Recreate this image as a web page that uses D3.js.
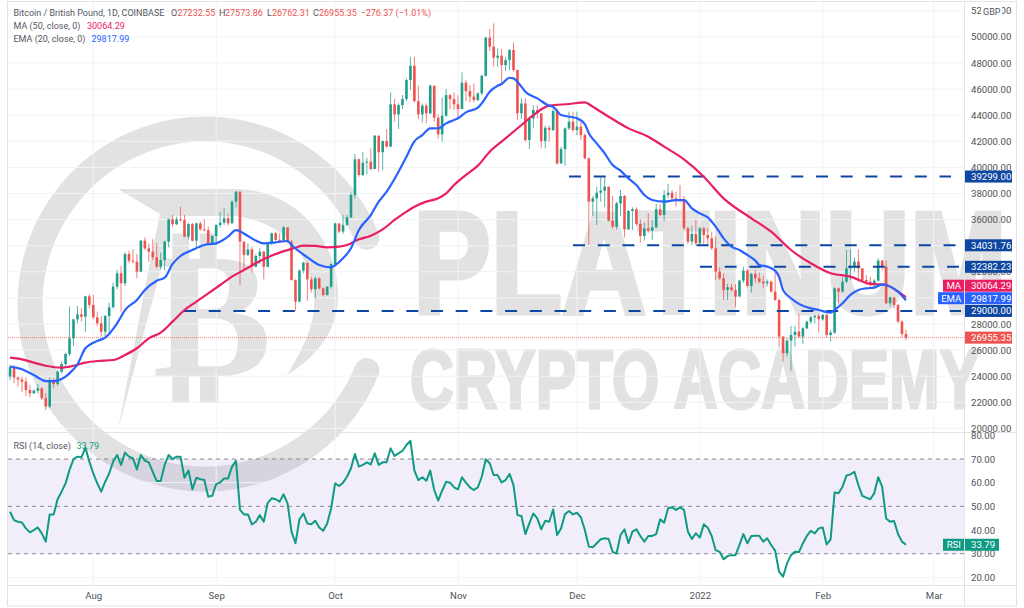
<!DOCTYPE html>
<html>
<head>
<meta charset="utf-8">
<script src="https://cdn.jsdelivr.net/npm/d3@7"></script>
<style>
  html, body { margin: 0; padding: 0; background: #fff; }
  svg { display: block; }
  text { font-family: Roboto, "Open Sans", sans-serif; }
</style>
</head>
<body>
<div id="chart"></div>
<script>
// bars are daily, first bar is 11 Jul 2021
var firstDay = Date.UTC(2021, 6, 11);
var firstOpen = 23970;

var closes = [
  24680,23900,23750,23580,22940,22690,22890,23070,22305,21670,
  23710,23400,24350,24935,25700,26900,28360,28740,28560,30120,
  29460,28510,28050,27410,28610,29280,30860,31880,31120,33360,
  32850,32780,32010,34385,33800,33540,33110,32390,32900,34310,
  36020,35640,36020,35970,34690,35660,34385,35710,35250,35200,
  34130,34740,35585,35760,36100,35710,37375,38140,34310,33290,
  33720,32390,33210,33540,32390,34180,34950,34440,34390,35410,
  34310,31370,29710,32090,32700,31420,30660,31500,30730,30220,
  30860,32600,35710,35080,35590,36175,37885,40618,39420,40360,
  40440,39880,42430,41160,42020,41590,44830,44065,44780,45240,
  46690,47790,45080,44065,44730,44140,46260,43810,42530,43960,
  45540,45240,44830,44470,46490,45850,45420,45160,45670,47020,
  49935,49250,48405,48560,47840,48226,48993,47460,44140,44900,
  42100,43760,44395,44140,42020,43040,42865,44320,40310,41400,
  42990,43500,42865,43120,42480,40695,37375,37630,38064,38217,
  38524,35920,35460,37247,37810,35256,36660,36790,35665,34745,
  35330,35154,35409,36788,36354,37886,38064,37630,37503,37452,
  35333,34311,34899,34184,35333,34822,34567,33801,32014,31503,
  30610,30814,30610,30099,31324,32090,30916,31835,31503,31247,
  31119,31247,30481,29843,27034,25758,26728,27162,27417,27034,
  27672,28183,28515,28617,28362,28694,27162,27340,30736,30481,
  31247,32268,32447,32779,32268,31374,31247,30992,31323,32855,
  32396,29587,30047,29460,28183,27232,26955
];
var highs = [
  24860,24860,23960,23960,23915,23330,23000,23400,23150,22690,
  23915,23840,24475,25115,25800,29330,28380,29380,29200,30120,
  30300,30220,28950,28610,28690,29640,31170,32140,32445,33470,
  33620,33750,33360,34430,34640,34180,34490,34180,33470,34390,
  36070,36380,36220,36990,36350,35760,35760,35760,35840,36020,
  35460,34820,35640,36610,36860,36480,37450,38190,38140,34310,
  34180,33920,33360,33800,33620,34230,35000,35075,34950,35510,
  35200,34440,31420,32190,32780,32700,31630,31630,31580,30810,
  30900,32650,35750,35640,36350,36350,38060,41030,40690,41200,
  40745,41460,42480,42430,42050,42940,45750,45240,44910,45540,
  46820,48480,48480,46260,44910,44910,46360,46060,44065,45340,
  46000,45600,45750,45540,47280,46690,46310,46440,45750,47100,
  50010,50600,51035,49120,49070,48480,49070,49580,47510,45290,
  45290,43885,44780,44780,43885,43200,43200,44525,44525,41590,
  43070,44270,44270,44270,43500,42610,40745,37810,38524,39239,
  39239,38524,37810,37375,38270,37885,36737,36940,36940,36022,
  35767,36480,35970,37196,37196,38270,38728,38270,38141,38652,
  37809,35460,35511,35971,35460,35460,35333,35078,34694,32345,
  31886,31069,31069,31069,31375,32396,32193,31937,32142,31962,
  31681,31420,31323,32089,29894,27085,26907,27851,27851,28770,
  27750,28260,28617,28700,28770,28770,28770,27540,30813,30813,
  31579,33672,33723,33110,33723,32268,31757,31630,31430,33034,
  32906,32855,30100,29970,29536,28311,27573
];
var lows = [
  23710,23460,23200,22770,22480,22380,22640,22690,22180,21410,
  21540,23070,23250,24220,24780,25550,26320,28050,28180,27410,
  29200,28360,27850,27030,27030,27340,29200,30660,28950,30910,
  32650,32650,31500,32010,33670,32780,32900,32270,32190,32090,
  33870,35460,35580,35840,34640,34490,34310,33800,35150,35100,
  34050,34050,34050,35410,35585,35510,35710,36940,30990,32140,
  33210,31930,32340,32600,31420,32340,34050,34390,34180,34310,
  34180,31320,29020,29710,31880,29790,30400,29970,30660,30100,
  30170,30730,32445,34950,34900,35510,36100,37630,39290,39340,
  39470,39800,40185,39680,39800,41510,41590,43500,42940,44470,
  45080,45930,44980,43710,43450,43375,44065,43500,42220,41970,
  43885,44470,44395,43760,44470,45080,44980,44980,45090,45540,
  46950,48915,47715,47715,46515,47384,47460,47335,43630,43700,
  41980,41410,42990,43760,41510,41460,41970,42790,40185,40260,
  40130,42865,42740,42480,42100,40620,34056,36280,35588,37375,
  36940,35844,35330,35256,36280,34643,35205,35205,35510,34235,
  34388,35000,34440,35333,36280,35920,37630,37452,36992,37300,
  35256,34133,34056,34056,34133,34133,34056,33673,31375,31375,
  29844,29844,30482,29282,30354,31172,30814,30405,31170,31119,
  30736,30864,30404,29766,26217,25120,25502,24430,26268,26907,
  26473,27596,28004,28050,27340,28260,26983,26651,27238,29587,
  30404,31119,31374,32013,31247,31247,30992,30864,30813,31247,
  32140,29536,29332,29205,28055,26983,26762
];
var rsiValues = [
  47.7,44.2,43.5,43.2,40.7,39.0,40.0,41.1,38.6,35.1,
  46.6,46.6,53.0,56.2,59.7,65.4,69.9,71.0,70.7,74.8,
  68.9,63.9,59.7,56.2,60.4,63.9,68.9,71.7,67.5,72.7,
  71.0,70.3,65.6,71.7,69.3,68.6,64.6,60.7,60.7,67.5,
  71.7,69.9,71.0,71.0,62.1,65.1,57.2,62.1,61.5,61.1,
  54.1,54.5,59.4,60.1,61.8,61.8,66.8,69.2,48.5,46.6,
  46.6,42.4,43.5,46.3,43.5,51.5,53.4,53.0,52.0,55.1,
  51.3,39.3,34.4,44.5,47.0,42.8,42.4,43.9,41.1,39.7,
  42.8,49.2,59.7,58.6,60.0,62.5,66.1,72.1,66.8,67.5,
  68.6,67.7,72.4,67.5,68.6,68.6,74.5,71.3,72.4,73.5,
  75.9,77.7,65.1,61.1,62.3,60.8,65.1,56.9,52.4,56.6,
  60.4,60.0,58.0,57.2,62.3,60.0,58.0,56.9,58.0,62.5,
  69.9,68.2,63.2,63.2,60.1,61.1,63.7,59.0,46.3,45.9,
  38.3,42.8,47.0,44.9,40.3,43.9,43.5,48.7,37.9,40.7,
  46.8,48.0,46.6,47.3,45.4,40.0,33.0,32.7,34.4,36.1,
  36.5,36.2,30.8,30.1,37.9,40.3,34.4,39.3,40.3,37.5,
  35.1,37.5,37.5,38.3,44.5,43.1,49.2,49.6,48.5,49.6,
  48.5,39.3,36.2,38.6,36.8,42.4,41.0,37.5,31.5,30.8,
  27.7,29.0,29.4,29.4,33.7,38.3,34.4,37.5,37.6,37.6,
  35.1,36.5,33.7,31.3,22.4,20.3,25.9,29.4,30.8,30.7,
  34.4,37.5,39.7,38.6,40.7,41.1,33.9,36.1,55.9,55.5,
  58.3,63.0,63.5,64.6,59.0,54.4,53.7,53.0,55.5,62.3,
  58.3,44.9,43.5,43.8,38.3,35.1,33.79
];

// moving averages at these bar numbers
var emaBars = [0,3,6,9,11,13,15,17,19,20,22,24,27,29,32,34,37,39,41,43,46,49,52,55,57,60,62,64,67,70,71,75,78,81,82,84,86,88,91,93,95,98,100,102,104,106,108,110,112,113,115,118,119,121,123,124,126,127,129,130,133,136,137,139,142,143,145,146,148,150,152,154,156,158,160,162,165,168,170,172,174,176,178,180,182,184,186,188,189,191,193,194,195,197,199,202,204,207,208,210,212,214,216,218,220,222,224,226];
var emaValues = [24730,24530,24090,23630,23630,23790,24220,24910,26140,26390,26700,26950,28050,29070,29840,30600,31320,31550,32600,33210,33670,34050,34180,34690,35200,34740,34390,34180,34260,34360,34050,33110,32520,32340,32500,33035,33800,35200,36350,37375,38140,39670,40820,42000,42480,42990,43000,43375,43630,43760,44220,44575,44910,45800,46260,46390,46870,46820,46180,45800,45290,44730,44650,44015,43840,43760,43325,42610,41840,41075,40180,39750,39160,38650,37885,37500,37375,37500,37500,36860,36480,36170,35460,34565,33930,33675,33290,32857,32520,32395,32090,31600,30610,29970,29540,29200,29075,28870,29075,29587,30226,30610,30736,30787,31042,30864,30481,29818];
var maBars = [0,3,6,9,13,16,19,22,26,29,32,35,38,41,44,47,50,53,56,59,62,65,68,71,74,77,80,83,85,88,91,94,97,100,102,105,108,110,112,115,118,121,125,129,132,136,141,145,147,151,156,161,165,170,175,180,187,192,197,202,207,212,217,221,224,226];
var maValues = [25420,25290,25040,24800,24655,24800,25040,25165,25240,25625,26140,26900,27340,28180,29075,29710,30350,30990,31630,32140,32650,33110,33470,33750,34000,33980,33875,33925,34056,34490,34770,35250,35970,36610,36990,37375,37630,38010,38650,39420,40135,41205,42225,43250,44010,44730,44860,44985,44650,43885,42990,42350,41590,40617,39290,37630,36100,35075,33670,32650,31886,31630,31070,30990,30480,30064];

var priceTicks = [20000,22000,24000,26000,28000,30000,32000,34000,36000,38000,40000,42000,44000,46000,48000,50000,52000];
var rsiTicks = [20,30,40,50,60,70,80];
var monthTicks = [[2021,7,1],[2021,8,1],[2021,9,1],[2021,10,1],[2021,11,1],[2022,0,1],[2022,1,1],[2022,2,1]];
var monthLabels = ["Aug","Sep","Oct","Nov","Dec","2022","Feb","Mar"];

var levels = [39299, 34031.76, 32382.23, 29000];
var levelLabels = ["39299.00", "34031.76", "32382.23", "29000.00"];
var levelStarts = [569, 573, 700, 184];
var levelEnds = [951, 956, 959, 961];

var lastClose = 26955.35;

var upColor = "#1f9e89", downColor = "#ef5350";
var maColor = "#e91e63", emaColor = "#2962ff", levelColor = "#0d47a1", rsiColor = "#0e9a85";
var gridColor = "#f0f3fa", borderColor = "#e0e3eb", markColor = "#e2e2e2", textColor = "#4f5258";

var W = 1024, H = 608;
var plotLeft = 8, plotRight = 964.5;
var svg = d3.select("#chart").append("svg").attr("width", W).attr("height", H);

var dayMs = 86400000;
var barDate = function (i) { return new Date(firstDay + i * dayMs); };
var monthDates = monthTicks.map(function (m) { return new Date(Date.UTC(m[0], m[1], m[2])); });

var x = d3.scaleUtc().domain([barDate(0), monthDates[7]]).range([10.06, 933.7]);
var y = d3.scaleLinear().domain([38000, 50000]).range([193.5, 36.9]);
var yRsi = d3.scaleLinear().domain([20, 70]).range([577.4, 459]);

/* WATERMARK */
var mark = svg.append("g").attr("class", "watermark");
var ringArc = d3.arc().innerRadius(162.5).outerRadius(187.5)
    .startAngle(Math.PI / 2 + 0.32).endAngle(Math.PI * 2.5 - 0.32).cornerRadius(12);
mark.append("path").attr("transform", "translate(205,304)").attr("d", ringArc()).attr("fill", markColor);
// the big slanted D behind the coin glyph
mark.append("path").attr("fill", markColor)
    .attr("d", "M118,189 L235,189 C300,189 340,245 338,300 C336,335 312,360 287,375 C306,345 316,320 314,296 C310,250 280,222 235,216 L172,216 L166,250 L118,430 L150,262 L160,214 Z");
mark.append("text").attr("x", 212).attr("y", 376).attr("text-anchor", "middle")
    .attr("font-size", 178).attr("font-weight", 700).attr("fill", markColor)
    .style("font-family", "'DejaVu Sans'").text("\u20BF");

// squeeze a word into the width it has in the logo
function squeezed(str, left, base, width, size, stroke) {
    var t = mark.append("text").attr("font-size", size).attr("font-weight", 700).attr("fill", markColor)
        .attr("stroke", markColor).attr("stroke-width", stroke)
        .style("font-family", "'Liberation Sans'").text(str);
    var sx = width / t.node().getBBox().width;
    t.attr("transform", "translate(" + left + "," + base + ") scale(" + sx + ",1)");
}
squeezed("PLATINUM", 413, 313, 594, 145, 5);
squeezed("CRYPTO ACADEMY", 410, 408, 570, 83, 3);

/* RSI BAND */
svg.append("rect").attr("x", plotLeft).attr("width", plotRight - plotLeft)
    .attr("y", yRsi(70)).attr("height", yRsi(30) - yRsi(70))
    .attr("fill", "#7e57c2").attr("fill-opacity", 0.1);

/* GRID */
var grid = svg.append("g").attr("stroke", gridColor).attr("stroke-width", 1);
priceTicks.forEach(function (t) {
    grid.append("line").attr("x1", plotLeft).attr("x2", plotRight).attr("y1", y(t)).attr("y2", y(t));
});
[20, 40, 60].forEach(function (t) {
    grid.append("line").attr("x1", plotLeft).attr("x2", plotRight).attr("y1", yRsi(t)).attr("y2", yRsi(t));
});
monthDates.forEach(function (d) {
    grid.append("line").attr("x1", x(d)).attr("x2", x(d)).attr("y1", 2).attr("y2", 585);
});

/* FRAME */
var frame = svg.append("g").attr("stroke", borderColor).attr("stroke-width", 1).attr("fill", "none");
frame.append("rect").attr("x", 7.5).attr("y", 1.5).attr("width", 1009).attr("height", 604.5);
frame.append("line").attr("x1", 7.5).attr("x2", 1016.5).attr("y1", 432.5).attr("y2", 432.5);
frame.append("line").attr("x1", 7.5).attr("x2", 1016.5).attr("y1", 585.5).attr("y2", 585.5);
frame.append("line").attr("x1", plotRight).attr("x2", plotRight).attr("y1", 1.5).attr("y2", 606);

/* RSI GUIDES */
[70, 50, 30].forEach(function (t) {
    svg.append("line").attr("x1", plotLeft).attr("x2", plotRight).attr("y1", yRsi(t)).attr("y2", yRsi(t))
        .attr("stroke", "#8a8791").attr("stroke-width", 1).attr("stroke-dasharray", "4,4");
});

/* AXES */
var priceAxis = d3.axisRight(y).tickValues(priceTicks).tickSize(0).tickPadding(0)
    .tickFormat(function (d) { return d3.format(".2f")(d); });
var rsiAxis = d3.axisRight(yRsi).tickValues(rsiTicks).tickSize(0).tickPadding(0)
    .tickFormat(function (d) { return d3.format(".2f")(d); });
var timeAxis = d3.axisBottom(x).tickValues(monthDates).tickSize(0).tickPadding(0)
    .tickFormat(function (d, i) { return monthLabels[i]; });

var priceAxisG = svg.append("g").attr("transform", "translate(971,0)").call(priceAxis);
[
    priceAxisG,
    svg.append("g").attr("transform", "translate(971,0)").call(rsiAxis),
    svg.append("g").attr("transform", "translate(0,592)").call(timeAxis)
].forEach(function (g) {
    g.select(".domain").remove();
    g.selectAll("text").attr("fill", textColor).style("font-size", "9.6px").style("font-family", "Roboto");
});
// 30000 sits completely under the MA and EMA tags
priceAxisG.selectAll(".tick").filter(function (d) { return d === 30000; }).remove();

/* CANDLES */
var candleG = svg.append("g");
var bars = d3.range(closes.length).map(function (i) {
    return { date: barDate(i), open: i === 0 ? firstOpen : closes[i - 1], high: highs[i], low: lows[i], close: closes[i] };
});
var candle = candleG.selectAll("g").data(bars).enter().append("g")
    .attr("fill", function (d) { return d.close >= d.open ? upColor : downColor; })
    .attr("stroke", function (d) { return d.close >= d.open ? upColor : downColor; });
candle.append("line")
    .attr("x1", function (d) { return x(d.date); }).attr("x2", function (d) { return x(d.date); })
    .attr("y1", function (d) { return y(d.high); }).attr("y2", function (d) { return y(d.low); })
    .attr("stroke-width", 1).attr("stroke-opacity", 0.75);
candle.append("rect")
    .attr("stroke", "none").attr("width", 2.6)
    .attr("x", function (d) { return x(d.date) - 1.3; })
    .attr("y", function (d) { return y(Math.max(d.open, d.close)); })
    .attr("height", function (d) { return Math.max(1, Math.abs(y(d.open) - y(d.close))); });

/* LAST PRICE LINE */
svg.append("line").attr("x1", plotLeft).attr("x2", plotRight).attr("y1", y(lastClose)).attr("y2", y(lastClose))
    .attr("stroke", downColor).attr("stroke-opacity", 0.7).attr("stroke-width", 1).attr("stroke-dasharray", "1,1");

/* HORIZONTAL LEVELS */
levels.forEach(function (lv, i) {
    svg.append("line").attr("x1", levelStarts[i]).attr("x2", levelEnds[i]).attr("y1", y(lv)).attr("y2", y(lv))
        .attr("stroke", levelColor).attr("stroke-width", 2).attr("stroke-dasharray", "12,12.7");
});

/* MOVING AVERAGES */
function drawSampled(barsIdx, values, color) {
    var pts = barsIdx.map(function (b, i) { return [x(barDate(b)), y(values[i])]; });
    svg.append("path").attr("d", d3.line().curve(d3.curveMonotoneX)(pts))
        .attr("fill", "none").attr("stroke", color).attr("stroke-width", 2.2).attr("stroke-linejoin", "round");
}
drawSampled(maBars, maValues, maColor);
drawSampled(emaBars, emaValues, emaColor);

/* RSI */
svg.append("path").attr("d", d3.line()
        .x(function (d, i) { return x(barDate(i)); })
        .y(function (d) { return yRsi(d); })(rsiValues))
    .attr("fill", "none").attr("stroke", rsiColor).attr("stroke-width", 2).attr("stroke-linejoin", "round");

/* PRICE TAGS */
function tag(cy, label, value, color, labelLeft, valueRight) {
    if (label) {
        svg.append("rect").attr("x", labelLeft).attr("y", cy - 6).attr("width", plotRight - labelLeft - 0.5).attr("height", 12).attr("fill", color);
        svg.append("text").attr("x", (labelLeft + plotRight) / 2).attr("y", cy + 3.4).attr("text-anchor", "middle")
            .attr("fill", "#fff").attr("font-size", 9.6).text(label);
    }
    svg.append("rect").attr("x", plotRight + 0.5).attr("y", cy - 6).attr("width", valueRight - plotRight - 0.5).attr("height", 12).attr("fill", color);
    svg.append("text").attr("x", 971).attr("y", cy + 3.4).attr("fill", "#fff").attr("font-size", 9.6).text(value);
}
levels.forEach(function (lv, i) {
    tag(y(lv), null, levelLabels[i], levelColor, 0, 1012);
});
tag(285.7, "MA", "30064.29", maColor, 943, 1012);
tag(298.2, "EMA", "29817.99", emaColor, 938, 1012);
tag(y(lastClose), null, "26955.35", downColor, 0, 1012);
tag(yRsi(33.79), "RSI", "33.79", rsiColor, 943, 999);

// currency box sits over the top price label
svg.append("rect").attr("x", 981).attr("y", 5).attr("width", 21).attr("height", 13).attr("fill", "#fff");
svg.append("text").attr("x", 983).attr("y", 15).attr("fill", textColor).attr("font-size", 9).text("GBP");

/* LEGEND TEXT */
function label(px, py, str, color) {
    svg.append("text").attr("x", px).attr("y", py).attr("fill", color).attr("font-size", 9).text(str);
}
var legendGrey = "#55585f", legendRed = "#ef5350";
label(13.5, 16, "Bitcoin / British Pound, 1D, COINBASE", legendGrey);
label(171, 16, "O", legendGrey);
label(177.5, 16, "27232.55", legendRed);
label(219, 16, "H", legendGrey);
label(225, 16, "27573.86", legendRed);
label(267, 16, "L", legendGrey);
label(272, 16, "26762.31", legendRed);
label(313, 16, "C", legendGrey);
label(319, 16, "26955.35", legendRed);
label(360.5, 16, "\u2212276.37 (\u22121.01%)", legendRed);
label(13.5, 28.5, "MA (50, close, 0)", legendGrey);
label(87, 28.5, "30064.29", maColor);
label(13.5, 41.5, "EMA (20, close, 0)", legendGrey);
label(91.5, 41.5, "29817.99", emaColor);
label(13.5, 448.5, "RSI (14, close)", legendGrey);
label(76.5, 448.5, "33.79", rsiColor);
</script>
</body>
</html>
